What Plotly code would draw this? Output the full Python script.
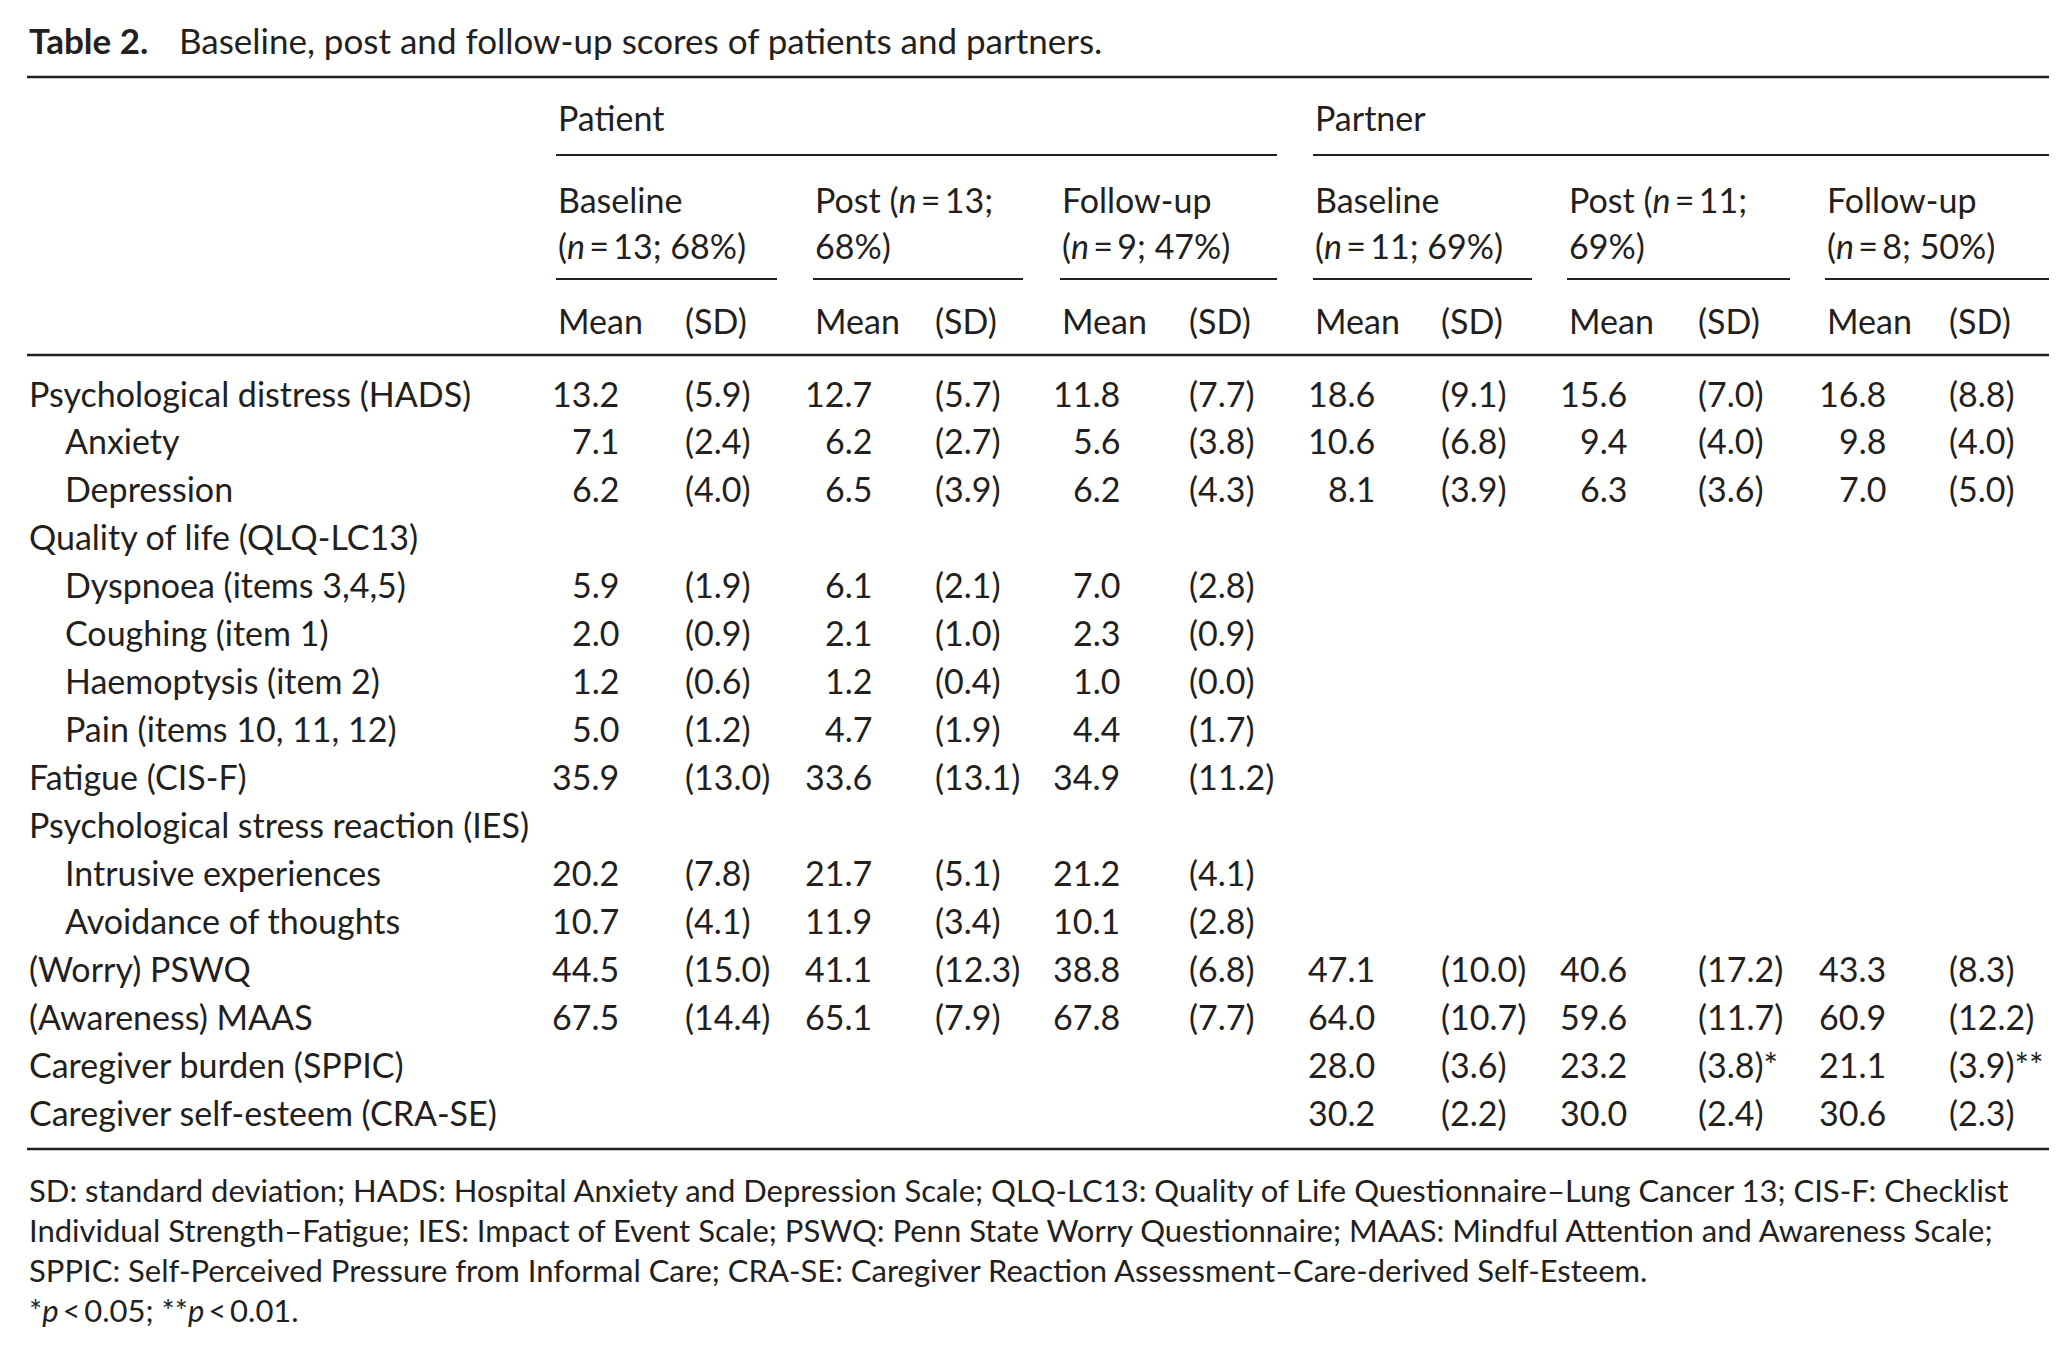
import plotly.graph_objects as go

W, H = 2065, 1353
FONT = "Lato"
INK = "#231f20"

# table content
row_labels = [
    "Psychological distress (HADS)", "Anxiety", "Depression",
    "Quality of life (QLQ-LC13)", "Dyspnoea (items 3,4,5)", "Coughing (item 1)",
    "Haemoptysis (item 2)", "Pain (items 10, 11, 12)", "Fatigue (CIS-F)",
    "Psychological stress reaction (IES)", "Intrusive experiences",
    "Avoidance of thoughts", "(Worry) PSWQ", "(Awareness) MAAS",
    "Caregiver burden (SPPIC)", "Caregiver self-esteem (CRA-SE)",
]
row_indent = [0, 1, 1, 0, 1, 1, 1, 1, 0, 0, 1, 1, 0, 0, 0, 0]

groups = ["Patient", "Partner"]
col_head1 = ["Baseline", "Post (<i>n</i>\u2009=\u200913;", "Follow-up",
             "Baseline", "Post (<i>n</i>\u2009=\u200911;", "Follow-up"]
col_head2 = ["(<i>n</i>\u2009=\u200913; 68%)", "68%)", "(<i>n</i>\u2009=\u20099; 47%)",
             "(<i>n</i>\u2009=\u200911; 69%)", "69%)", "(<i>n</i>\u2009=\u20098; 50%)"]

# means / sds per column (None = empty cell)
pat_base_m = ["13.2", "7.1", "6.2", None, "5.9", "2.0", "1.2", "5.0", "35.9", None, "20.2", "10.7", "44.5", "67.5", None, None]
pat_base_sd = ["(5.9)", "(2.4)", "(4.0)", None, "(1.9)", "(0.9)", "(0.6)", "(1.2)", "(13.0)", None, "(7.8)", "(4.1)", "(15.0)", "(14.4)", None, None]
pat_post_m = ["12.7", "6.2", "6.5", None, "6.1", "2.1", "1.2", "4.7", "33.6", None, "21.7", "11.9", "41.1", "65.1", None, None]
pat_post_sd = ["(5.7)", "(2.7)", "(3.9)", None, "(2.1)", "(1.0)", "(0.4)", "(1.9)", "(13.1)", None, "(5.1)", "(3.4)", "(12.3)", "(7.9)", None, None]
pat_fu_m = ["11.8", "5.6", "6.2", None, "7.0", "2.3", "1.0", "4.4", "34.9", None, "21.2", "10.1", "38.8", "67.8", None, None]
pat_fu_sd = ["(7.7)", "(3.8)", "(4.3)", None, "(2.8)", "(0.9)", "(0.0)", "(1.7)", "(11.2)", None, "(4.1)", "(2.8)", "(6.8)", "(7.7)", None, None]
par_base_m = ["18.6", "10.6", "8.1", None, None, None, None, None, None, None, None, None, "47.1", "64.0", "28.0", "30.2"]
par_base_sd = ["(9.1)", "(6.8)", "(3.9)", None, None, None, None, None, None, None, None, None, "(10.0)", "(10.7)", "(3.6)", "(2.2)"]
par_post_m = ["15.6", "9.4", "6.3", None, None, None, None, None, None, None, None, None, "40.6", "59.6", "23.2", "30.0"]
par_post_sd = ["(7.0)", "(4.0)", "(3.6)", None, None, None, None, None, None, None, None, None, "(17.2)", "(11.7)", "(3.8)*", "(2.4)"]
par_fu_m = ["16.8", "9.8", "7.0", None, None, None, None, None, None, None, None, None, "43.3", "60.9", "21.1", "30.6"]
par_fu_sd = ["(8.8)", "(4.0)", "(5.0)", None, None, None, None, None, None, None, None, None, "(8.3)", "(12.2)", "(3.9)**", "(2.3)"]

means = [pat_base_m, pat_post_m, pat_fu_m, par_base_m, par_post_m, par_fu_m]
sds = [pat_base_sd, pat_post_sd, pat_fu_sd, par_base_sd, par_post_sd, par_fu_sd]

title_bold = "Table 2."
title_text = "Baseline, post and follow-up scores of patients and partners."
footnotes = [
    "SD: standard deviation; HADS: Hospital Anxiety and Depression Scale; QLQ-LC13: Quality of Life Questionnaire\u2013Lung Cancer 13; CIS-F: Checklist",
    "Individual Strength\u2013Fatigue; IES: Impact of Event Scale; PSWQ: Penn State Worry Questionnaire; MAAS: Mindful Attention and Awareness Scale;",
    "SPPIC: Self-Perceived Pressure from Informal Care; CRA-SE: Caregiver Reaction Assessment\u2013Care-derived Self-Esteem.",
    "*<i>p</i>\u2009<\u20090.05; **<i>p</i>\u2009<\u20090.01.",
]

# layout geometry (page pixels)
left, right = 27, 2049
col_x = [556, 813, 1060, 1313, 1567, 1825]
col_end = [777, 1023, 1277, 1532, 1790, 2049]
sd_x = [683, 933, 1187, 1439, 1696, 1947]
mean_r = [621, 874, 1122, 1377, 1629, 1888]
group_x = [556, 1313]
group_end = [1277, 2049]
row_y0, row_dy = 393, 47.95
fs = 34
PAD = 8  # page body margin

fig = go.Figure()
ann = []


def txt(x, y, s, anchor="left", size=fs):
    ann.append(dict(x=x, y=y, xref="x", yref="y", text=s, showarrow=False,
                    xanchor=anchor, yanchor="middle",
                    font=dict(family=FONT, size=size, color=INK)))


txt(left, 40, "<b>" + title_bold + "</b>\u2003\u2009" + title_text, size=35)
for g, gx in zip(groups, group_x):
    txt(gx, 117, g)
for i in range(6):
    txt(col_x[i], 199, col_head1[i])
    txt(col_x[i], 245, col_head2[i])
    txt(col_x[i], 320, "Mean")
    txt(sd_x[i], 320, "(SD)")

for r, lab in enumerate(row_labels):
    y = row_y0 + r * row_dy
    txt(left + 36 * row_indent[r], y, lab)
    for c in range(6):
        if means[c][r] is not None:
            txt(mean_r[c], y, means[c][r], anchor="right")
        if sds[c][r] is not None:
            txt(sd_x[c], y, sds[c][r])

for k, line in enumerate(footnotes):
    txt(left, 1190 + k * 40, line, size=31)

shapes = []


def hline(x0, x1, y, w):
    shapes.append(dict(type="line", xref="x", yref="y", x0=x0, x1=x1, y0=y, y1=y,
                       line=dict(color=INK, width=w)))


hline(left, right, 77, 2.6)
for gx, ge in zip(group_x, group_end):
    hline(gx, ge, 155, 2)
for cx, ce in zip(col_x, col_end):
    hline(cx, ce, 279, 2)
hline(left, right, 355, 2.6)
hline(left, right, 1149, 2.6)

fig.update_layout(
    width=W - PAD, height=H - PAD,
    margin=dict(l=0, r=0, t=0, b=0),
    paper_bgcolor="white", plot_bgcolor="white",
    xaxis=dict(range=[PAD, W], visible=False, fixedrange=True),
    yaxis=dict(range=[H, PAD], visible=False, fixedrange=True),
    annotations=ann, shapes=shapes, showlegend=False,
)
fig.write_html("out.html")
